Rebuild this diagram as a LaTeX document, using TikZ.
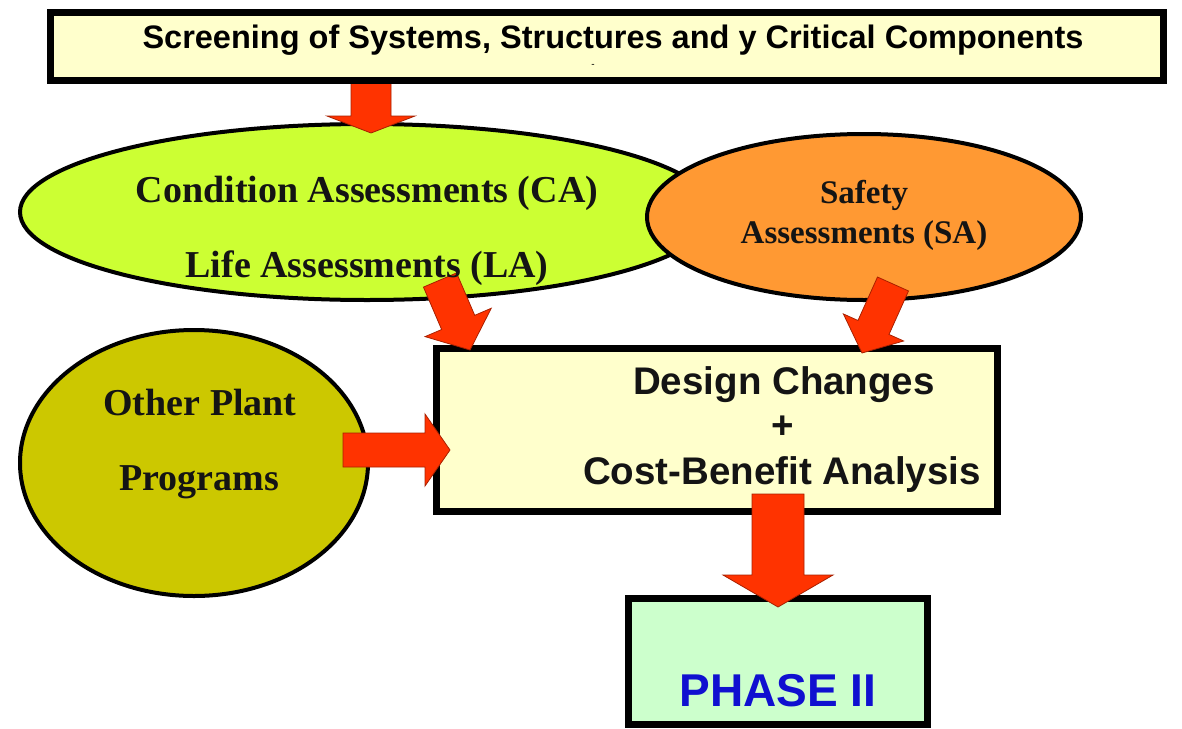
\documentclass[tikz,border=0pt]{standalone}
\usepackage{fontspec}
\setmainfont{Liberation Serif}
\setsansfont{Liberation Sans}
\usetikzlibrary{calc,shapes.geometric}

\definecolor{paleyellow}{HTML}{FFFFCC}
\definecolor{limegreen}{HTML}{CCFF33}
\definecolor{safetyorange}{HTML}{FF9933}
\definecolor{plantolive}{HTML}{CCC800}
\definecolor{phasegreen}{HTML}{CCFFCC}
\definecolor{arrowred}{HTML}{FF3300}
\definecolor{arrowedge}{HTML}{A82000}
\definecolor{phaseblue}{HTML}{1010D0}

\newcommand{\fs}[1]{\fontsize{#1}{#1}\selectfont}

% block arrow: from, to, shaft half width, head half width, head length
\newcommand{\blockarrow}[5]{%
  \coordinate (ba-base) at ($(#2)!#5!(#1)$);
  \filldraw[blockarrow]
    ($(#1)!#3!90:(#2)$) -- ($(ba-base)!#3!90:(#2)$) -- ($(ba-base)!#4!90:(#2)$)
    -- (#2)
    -- ($(ba-base)!#4!-90:(#2)$) -- ($(ba-base)!#3!-90:(#2)$) -- ($(#1)!#3!-90:(#2)$)
    -- cycle;
}

\begin{document}
\begin{tikzpicture}[x=1pt,y=-1pt,
  rectbox/.style={draw=black, line width=7pt, inner sep=0pt, rectangle},
  oval/.style={draw=black, line width=4pt, inner sep=0pt, ellipse},
  blockarrow/.style={fill=arrowred, draw=arrowedge, line width=0.8pt, line join=miter},
  seriflabel/.style={font=\bfseries\fs{38}, text=black!92, inner sep=0pt},
  sanslabel/.style={font=\sffamily\bfseries\fs{38.5}, text=black!92, inner sep=0pt}]
\useasboundingbox (0,0) rectangle (1182,728);

% assessment ovals
\node[oval, fill=limegreen, minimum width=694pt, minimum height=176pt] (ca) at (367,212) {};
\node[oval, fill=safetyorange, minimum width=434pt, minimum height=166pt] (sa) at (864,217) {};

% screening arrow sits under the screening box border
\coordinate (screen-out) at (371,66);
\coordinate (ca-in) at (371,133);
\blockarrow{screen-out}{ca-in}{20pt}{44pt}{17pt}

% screening box
\node[rectbox, fill=paleyellow, minimum width=1113pt, minimum height=68pt] (screen) at (606.5,46) {};
\node[font=\sffamily\bfseries\fs{32.5}, inner sep=0pt] (screentext) at (613,40)
  {Screening of Systems, Structures and y Critical Components};
\node[font=\sffamily\fs{10}, inner sep=0pt] (screenmark) at (593,66) {-};

% design changes box
\node[rectbox, fill=paleyellow, minimum width=561pt, minimum height=163pt] (design) at (716.5,429.5) {};

% phase II box
\node[rectbox, fill=phasegreen, minimum width=299pt, minimum height=126pt] (phase) at (777.5,661) {};

% other plant programs
\node[oval, fill=plantolive, minimum width=348pt, minimum height=266pt] (plant) at (194,463) {};

% arrows into the design box and on to phase II
\coordinate (la-out) at (440,280);
\coordinate (design-la) at (470,350);
\blockarrow{la-out}{design-la}{18pt}{36pt}{30pt}

\coordinate (sa-out) at (893,284);
\coordinate (design-sa) at (862,353);
\blockarrow{sa-out}{design-sa}{17pt}{33pt}{28pt}

\coordinate (plant-out) at (343,450);
\coordinate (design-plant) at (450,450);
\blockarrow{plant-out}{design-plant}{17pt}{36pt}{25pt}

\coordinate (design-out) at (778,494);
\coordinate (phase-in) at (778,607);
\blockarrow{design-out}{phase-in}{26pt}{55pt}{32pt}

% texts
\node[seriflabel] (catext) at (367,193) {Condition Assessments (CA)};
\node[seriflabel] (latext) at (367,268) {Life Assessments (LA)};
\node[seriflabel, font=\bfseries\fs{33}] (satext1) at (864,195) {Safety};
\node[seriflabel, font=\bfseries\fs{33}] (satext2) at (864,236) {Assessments (SA)};
\node[seriflabel] (planttext1) at (200,402) {Other Plant};
\node[seriflabel] (planttext2) at (199,482) {Programs};

\node[sanslabel] (designtext1) at (784,385) {Design Changes};
\node[sanslabel] (designtext2) at (783,427) {+};
\node[sanslabel] (designtext3) at (782,475) {Cost-Benefit Analysis};

\node[font=\sffamily\bfseries\fs{46}, text=phaseblue, inner sep=0pt] (phasetext) at (778,691) {PHASE II};
\end{tikzpicture}
\end{document}
